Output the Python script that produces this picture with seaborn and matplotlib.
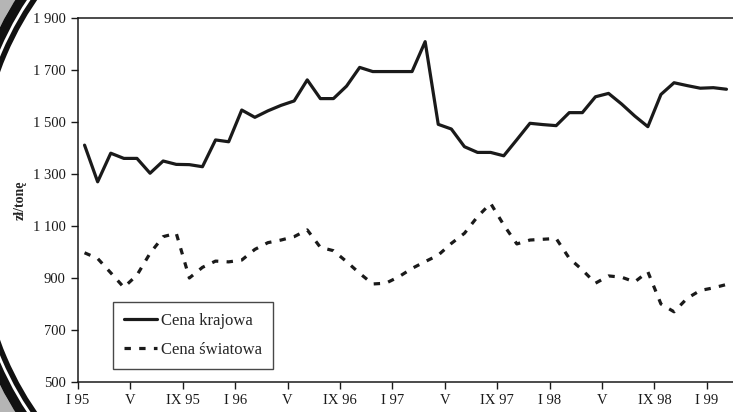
import matplotlib
matplotlib.use("Agg")
import matplotlib.pyplot as plt
from matplotlib.patches import Arc
import numpy as np
import pandas as pd
import seaborn as sns

# monthly prices, I 1995 .. II 1999 (zł/tonę)
krajowa = [1411, 1270, 1380, 1360, 1360, 1303, 1350, 1337, 1336, 1328,
           1431, 1424, 1546, 1518, 1543, 1564, 1581, 1662, 1590, 1590,
           1638, 1710, 1694, 1694, 1694, 1694, 1809, 1491, 1473, 1405,
           1383, 1383, 1370, 1432, 1495, 1490, 1486, 1536, 1536, 1597,
           1610, 1569, 1523, 1482, 1606, 1651, 1640, 1630, 1632, 1626]
swiatowa = [997, 975, 920, 864, 911, 995, 1059, 1072, 900, 941,
            965, 962, 969, 1010, 1036, 1046, 1059, 1085, 1018, 1005,
            963, 918, 877, 880, 905, 937, 963, 988, 1033, 1072,
            1136, 1187, 1104, 1031, 1046, 1049, 1052, 976, 931, 880,
            908, 903, 885, 924, 800, 770, 822, 852, 862, 875]
tick_labels = ["I 95", "V", "IX 95", "I 96", "V", "IX 96", "I 97",
               "V", "IX 97", "I 98", "V", "IX 98", "I 99"]
series_names = ["Cena krajowa", "Cena światowa"]
y_ticks = [500, 700, 900, 1100, 1300, 1500, 1700, 1900]

df = pd.DataFrame({
    "month": np.arange(len(krajowa)) + 0.5,  # points centred in month slots
    "krajowa": krajowa,
    "swiatowa": swiatowa,
})

sns.set_style("ticks")
plt.rcParams["font.family"] = ["Liberation Serif", "DejaVu Serif"]

fig = plt.figure(figsize=(7.33, 4.12), dpi=100)
ax = fig.add_axes([78 / 733, 30 / 412, 655 / 733, 364 / 412])

sns.lineplot(data=df, x="month", y="krajowa", color="#1a1a1a", lw=2.3,
             ax=ax, label=series_names[0])
sns.lineplot(data=df, x="month", y="swiatowa", color="#1a1a1a", lw=2.3,
             ax=ax, label=series_names[1])
ax.lines[1].set_dashes([2.0, 2.6])

ax.set_xlim(0, len(krajowa))
ax.set_ylim(500, 1900)
ax.set_xticks(np.arange(0, 4 * len(tick_labels), 4))
ax.set_xticklabels(tick_labels)
ax.set_yticks(y_ticks)
ax.set_yticklabels([f"{v:,}".replace(",", " ") for v in y_ticks])
ax.tick_params(axis="both", direction="out", length=5, width=1,
               labelsize=10.5, pad=4, colors="#1a1a1a")
ax.set_xlabel("")
ax.set_ylabel("zł/tonę", fontsize=10, fontweight="bold", labelpad=4)

for side in ["left", "bottom", "top"]:
    ax.spines[side].set_visible(True)
    ax.spines[side].set_linewidth(1.1)
    ax.spines[side].set_color("#1a1a1a")
ax.spines["right"].set_visible(False)

leg = ax.legend(loc="lower left", bbox_to_anchor=(35 / 655, 13 / 364),
                borderaxespad=0, frameon=True, fancybox=False,
                edgecolor="#1a1a1a", fontsize=12, handlelength=2.0,
                handletextpad=0.25, labelspacing=0.8, borderpad=0.65)
leg.get_frame().set_linewidth(1.0)

# scanned page edge on the left
deco = fig.add_axes([0, 0, 1, 1], zorder=5)
deco.set_xlim(0, 733)
deco.set_ylim(412, 0)
deco.axis("off")
deco.patch.set_alpha(0)
for a, b, col, width in [(262, 345, "#b5b5b5", 40),
                         (229, 312, "#111111", 7),
                         (219, 300, "#111111", 4)]:
    deco.add_patch(Arc((193, 206), 2 * a, 2 * b, theta1=112, theta2=248,
                       ec=col, lw=width))

fig.savefig("out.png", dpi=100)
